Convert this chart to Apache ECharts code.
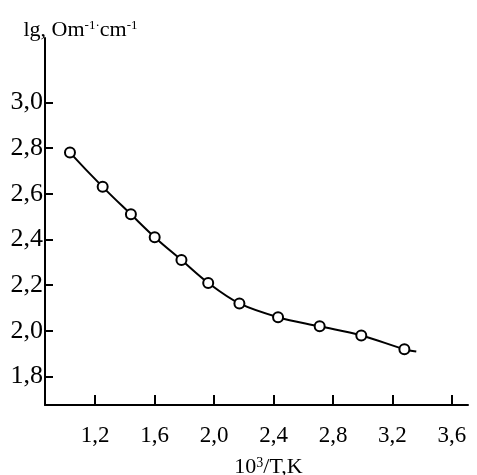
<!DOCTYPE html>
<html>
<head>
<meta charset="utf-8">
<script src="https://cdn.jsdelivr.net/npm/echarts@6/dist/echarts.min.js"></script>
<style>html,body{margin:0;padding:0;background:#fff;}#c{width:477px;height:475px;}</style>
</head>
<body>
<div id="c"></div>
<script>
// tick labels
const xTicks = [1.2, 1.6, 2.0, 2.4, 2.8, 3.2, 3.6];
const yTicks = [1.8, 2.0, 2.2, 2.4, 2.6, 2.8, 3.0];
// measured points (10^3/T, lg sigma)
const xValues = [1.03, 1.25, 1.44, 1.60, 1.78, 1.96, 2.17, 2.43, 2.71, 2.99, 3.28];
const yValues = [2.78, 2.63, 2.51, 2.41, 2.31, 2.21, 2.12, 2.06, 2.02, 1.98, 1.92];
// fitted curve extends slightly past the first and last points
const curveStart = [1.01, 2.80];
const curveEnd = [3.36, 1.91];

const points = xValues.map((x, i) => [x, yValues[i]]);
const curve = [curveStart].concat(points, [curveEnd]);
const fmt = v => Number(v).toFixed(1).replace('.', ',');
const font = 'Liberation Serif';

const chart = echarts.init(document.getElementById('c'), null, {renderer: 'canvas'});
chart.setOption({
  animation: false,
  backgroundColor: '#fff',
  grid: {left: 45, right: 9, top: 38, bottom: 70, containLabel: false, outerBoundsMode: 'none'},
  xAxis: {
    type: 'value', min: 0.862, max: 3.708,
    name: '{a|10}{sup|3}{a|/T,K}',
    nameLocation: 'middle', nameGap: 51,
    nameTextStyle: {
      fontFamily: font, fontSize: 22, color: '#000', padding: [0, 0, 0, 24],
      rich: {
        a: {fontFamily: font, fontSize: 22, color: '#000'},
        sup: {fontFamily: font, fontSize: 14, color: '#000', verticalAlign: 'top', padding: [0, 0, 8, 0]}
      }
    },
    axisLine: {show: true, onZero: false, lineStyle: {color: '#000', width: 2}},
    axisTick: {show: true, inside: true, length: 10, lineStyle: {color: '#000', width: 2}, customValues: xTicks},
    axisLabel: {customValues: xTicks, formatter: fmt, margin: 19, fontFamily: font, fontSize: 23, color: '#000'},
    splitLine: {show: false}
  },
  yAxis: {
    type: 'value', min: 1.676, max: 3.281,
    name: '{a|lg, Om}{sup|-1·}{a|cm}{sup|-1}',
    nameLocation: 'end', nameGap: -4,
    nameTextStyle: {
      fontFamily: font, fontSize: 22, color: '#000', align: 'center', padding: [0, 0, 0, 71],
      rich: {
        a: {fontFamily: font, fontSize: 22, color: '#000'},
        sup: {fontFamily: font, fontSize: 13, color: '#000', verticalAlign: 'top', padding: [0, 0, 10, 0]}
      }
    },
    axisLine: {show: true, onZero: false, lineStyle: {color: '#000', width: 2}},
    axisTick: {show: true, inside: true, length: 8, lineStyle: {color: '#000', width: 2}, customValues: yTicks},
    axisLabel: {customValues: yTicks, formatter: fmt, margin: 2, fontFamily: font, fontSize: 26, color: '#000'},
    splitLine: {show: false}
  },
  series: [
    {
      type: 'line', data: curve, smooth: 0.35, showSymbol: false, symbol: 'none',
      lineStyle: {color: '#000', width: 2}, z: 2
    },
    {
      type: 'scatter', data: points, symbol: 'circle', symbolSize: 10,
      itemStyle: {color: '#fff', borderColor: '#000', borderWidth: 2, opacity: 1}, z: 3
    }
  ]
});
</script>
</body>
</html>
